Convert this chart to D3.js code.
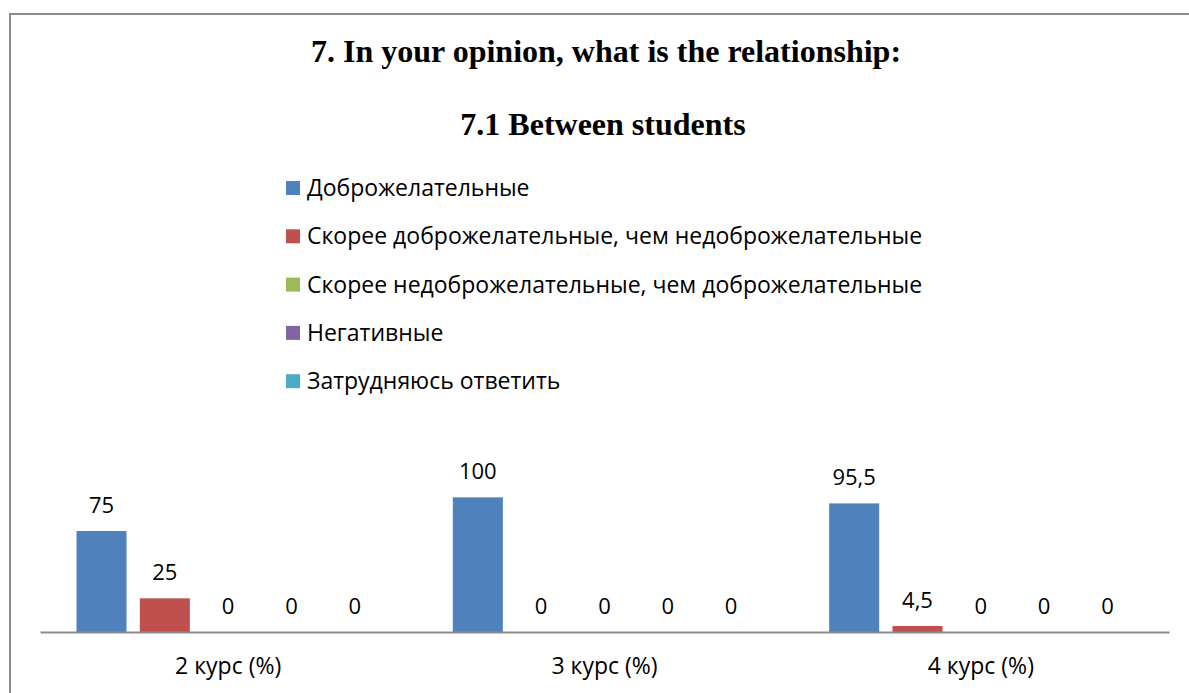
<!DOCTYPE html>
<html>
<head>
<meta charset="utf-8">
<script src="https://cdn.jsdelivr.net/npm/d3@7"></script>
<style>
  body { margin: 0; background: #fff; }
  text { fill: #000; }
</style>
</head>
<body>
<svg width="1189" height="693"></svg>
<script>
// ************** Data *****************
const courses = ["2 курс (%)", "3 курс (%)", "4 курс (%)"];
const answers = [
  "Доброжелательные",
  "Скорее доброжелательные, чем недоброжелательные",
  "Скорее недоброжелательные, чем доброжелательные",
  "Негативные",
  "Затрудняюсь ответить"
];
// one array per answer, values per course
const friendly      = [75, 100, 95.5];
const ratherFriend  = [25, 0, 4.5];
const ratherUnfr    = [0, 0, 0];
const negative      = [0, 0, 0];
const hardToSay     = [0, 0, 0];
const colors = ["#4F81BD", "#C0504D", "#9BBB59", "#8064A2", "#4BACC6"];

const series = [friendly, ratherFriend, ratherUnfr, negative, hardToSay];

// *************** Graph Setup *****************
let svg = d3.select("svg");

// outer chart frame (runs off the right/bottom edge in the reference)
svg.append("rect")
  .attr("x", 10).attr("y", 14)
  .attr("width", 1200).attr("height", 700)
  .attr("fill", "none")
  .attr("stroke", "#8c8c8c")
  .attr("stroke-width", 2);

svg.append("text")
  .attr("x", 606).attr("y", 62)
  .attr("text-anchor", "middle")
  .style("font-family", "'Liberation Serif', 'Times New Roman', serif")
  .style("font-weight", "bold")
  .style("font-size", "32px")
  .text("7. In your opinion, what is the relationship:");

svg.append("text")
  .attr("x", 603).attr("y", 135)
  .attr("text-anchor", "middle")
  .style("font-family", "'Liberation Serif', 'Times New Roman', serif")
  .style("font-weight", "bold")
  .style("font-size", "32px")
  .text("7.1 Between students");

// legend
const sansFont = "'Open Sans', 'Noto Sans', sans-serif";
let legend = svg.append("g");
let legendItem = legend.selectAll("g")
  .data(answers)
  .enter().append("g")
  .attr("transform", (d, i) => "translate(286," + (188 + i * 48.3) + ")");

legendItem.append("rect")
  .attr("x", 0).attr("y", -7)
  .attr("width", 14).attr("height", 14)
  .attr("fill", (d, i) => colors[i]);

legendItem.append("text")
  .attr("x", 21).attr("y", 8)
  .style("font-family", sansFont)
  .style("font-size", "23px")
  .text(d => d);

// scales
const axisY = 632;
let xScale = d3.scaleBand()
  .domain(courses)
  .range([40, 1169])
  .padding(0);

let inner = d3.scaleBand()
  .domain(d3.range(answers.length))
  .range([36.5, xScale.bandwidth() - 36.5])
  .paddingInner(0.21);

let yScale = d3.scaleLinear()
  .domain([0, 120])
  .range([axisY, axisY - 161.6]);

let chart = svg.append("g");

let groups = chart.selectAll(".group")
  .data(courses)
  .enter().append("g")
  .attr("class", "group")
  .attr("transform", d => "translate(" + xScale(d) + ",0)");

let cells = groups.selectAll(".cell")
  .data((c, ci) => series.map((s, si) => ({ si: si, v: s[ci] })))
  .enter();

cells.append("rect")
  .attr("class", "bar")
  .attr("x", d => inner(d.si))
  .attr("y", d => yScale(d.v))
  .attr("width", inner.bandwidth())
  .attr("height", d => axisY - yScale(d.v))
  .attr("fill", d => colors[d.si]);

cells.append("text")
  .attr("x", d => inner(d.si) + inner.bandwidth() / 2)
  .attr("y", d => yScale(d.v) - 18)
  .attr("text-anchor", "middle")
  .style("font-family", sansFont)
  .style("font-size", "22px")
  .text(d => String(d.v).replace(".", ","));

// x axis
let xAxis = chart.append("g")
  .attr("transform", "translate(0," + axisY + ")")
  .call(d3.axisBottom(xScale).tickSize(0).tickPadding(26));

xAxis.select(".domain")
  .attr("stroke", "#8c8c8c")
  .attr("stroke-width", 2);

xAxis.selectAll("text")
  .style("font-family", sansFont)
  .style("font-size", "23px")
  .attr("fill", "#000");
</script>
</body>
</html>
